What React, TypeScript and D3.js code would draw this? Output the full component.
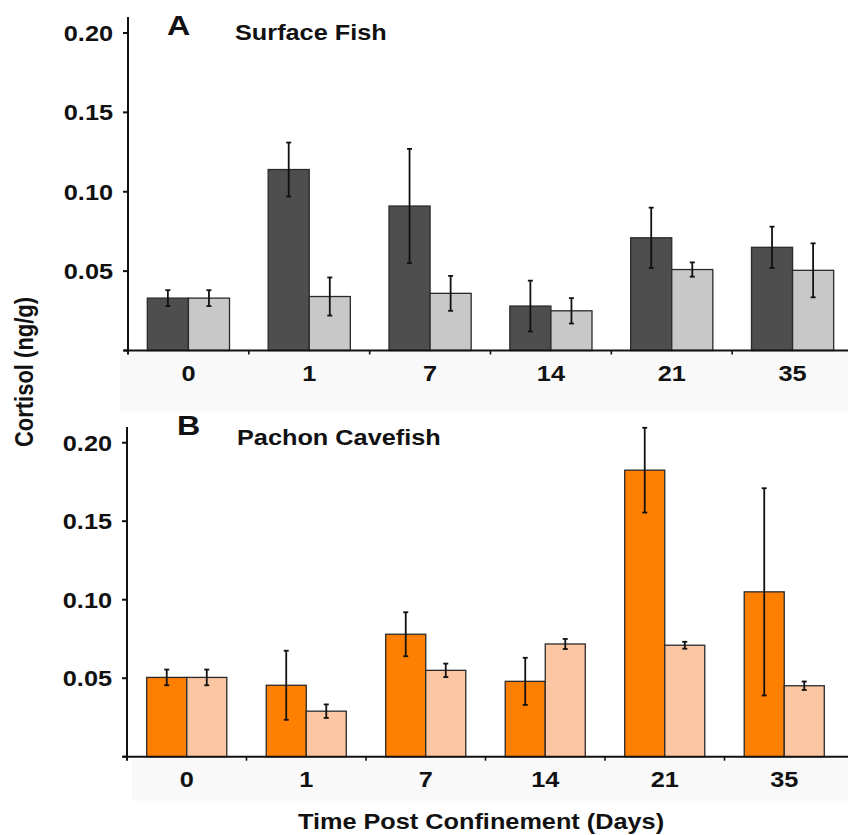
import React from "react";
import * as d3 from "d3";

const days = ["0", "1", "7", "14", "21", "35"];
const surfaceConfined = [0.033, 0.114, 0.091, 0.028, 0.071, 0.065];
const surfaceConfinedErr = [0.005, 0.017, 0.036, 0.016, 0.019, 0.013];
const surfaceControl = [0.033, 0.034, 0.036, 0.025, 0.051, 0.0505];
const surfaceControlErr = [0.005, 0.012, 0.011, 0.008, 0.0045, 0.017];
const caveConfined = [0.0505, 0.0455, 0.078, 0.048, 0.1825, 0.105];
const caveConfinedErr = [0.005, 0.022, 0.014, 0.015, 0.027, 0.066];
const caveControl = [0.0505, 0.029, 0.055, 0.0718, 0.071, 0.0452];
const caveControlErr = [0.005, 0.0043, 0.0043, 0.0032, 0.0022, 0.0027];
const yTicks = [0.05, 0.1, 0.15, 0.2];
const seriesKeys = ["confined", "control"];

const FONT = "'Liberation Sans', Arial, Helvetica, sans-serif";
const SX = 1.15;

function T({ x, y, size, anchor = "start", rotate = 0, children }: any) {
  return (
    <text
      transform={`translate(${x},${y}) scale(${SX},1) rotate(${rotate})`}
      fontFamily={FONT}
      fontWeight="bold"
      fontSize={size}
      textAnchor={anchor}
      fill="#111"
    >
      {children}
    </text>
  );
}

function Panel({ cfg }: any) {
  const x = d3
    .scaleBand<string>()
    .domain(days)
    .range([cfg.x0, cfg.x1])
    .paddingInner(cfg.pad)
    .paddingOuter(cfg.pad / 2);
  const xs = d3.scaleBand<string>().domain(seriesKeys).range([0, x.bandwidth()]);
  const y = d3.scaleLinear().domain([0, 0.2]).range([cfg.yBase, cfg.yTop]);
  const series = [
    { key: "confined", vals: cfg.a, errs: cfg.aErr, fill: cfg.c1 },
    { key: "control", vals: cfg.b, errs: cfg.bErr, fill: cfg.c2 },
  ];
  const bounds = days.map((d) => (x(d) as number) - (x.step() * x.paddingInner()) / 2);
  return (
    <g>
      <rect x={cfg.bandX} y={cfg.yBase + 2} width={848 - cfg.bandX} height={cfg.bandH} fill="#f9f9f9" />
      {series.map((s) =>
        days.map((d, i) => {
          const bx = (x(d) as number) + (xs(s.key) as number);
          const bw = xs.bandwidth();
          const top = y(s.vals[i]);
          const cx = bx + bw / 2;
          const e1 = y(s.vals[i] + s.errs[i]);
          const e2 = y(s.vals[i] - s.errs[i]);
          return (
            <g key={s.key + d}>
              <rect x={bx} y={top} width={bw} height={cfg.yBase - top} fill={s.fill} stroke="#2a2a2a" strokeWidth={1.3} />
              <line x1={cx} x2={cx} y1={e1} y2={e2} stroke="#111" strokeWidth={1.8} />
              <line x1={cx - 2.5} x2={cx + 2.5} y1={e1} y2={e1} stroke="#111" strokeWidth={1.8} />
              <line x1={cx - 2.5} x2={cx + 2.5} y1={e2} y2={e2} stroke="#111" strokeWidth={1.8} />
            </g>
          );
        })
      )}
      {/* y axis */}
      <line x1={cfg.x0} x2={cfg.x0} y1={cfg.axisTop} y2={cfg.yBase + 4} stroke="#111" strokeWidth={2} />
      {[0, ...yTicks].map((t) => (
        <line key={"yt" + t} x1={cfg.x0 - 5} x2={cfg.x0} y1={y(t)} y2={y(t)} stroke="#111" strokeWidth={2} />
      ))}
      {yTicks.map((t) => (
        <T key={"yl" + t} x={cfg.x0 - 15} y={y(t) + 8} size={22} anchor="end">
          {d3.format(".2f")(t)}
        </T>
      ))}
      {/* x axis */}
      <line x1={cfg.x0 - 4} x2={848} y1={cfg.yBase} y2={cfg.yBase} stroke="#111" strokeWidth={2} />
      {bounds.slice(1).map((bx, i) => (
        <line key={"xt" + i} x1={bx} x2={bx} y1={cfg.yBase} y2={cfg.yBase + 4} stroke="#111" strokeWidth={1.6} />
      ))}
      {days.map((d) => (
        <T key={"xl" + d} x={(x(d) as number) + x.bandwidth() / 2} y={cfg.yBase + 30.5} size={22} anchor="middle">
          {d}
        </T>
      ))}
      <T x={cfg.letterX} y={cfg.letterY} size={28}>
        {cfg.letter}
      </T>
      <T x={cfg.titleX} y={cfg.titleY} size={22}>
        {cfg.title}
      </T>
    </g>
  );
}

const panelA = {
  x0: 128,
  x1: 853,
  pad: 0.32,
  yBase: 350.5,
  yTop: 33,
  axisTop: 17,
  a: surfaceConfined,
  aErr: surfaceConfinedErr,
  b: surfaceControl,
  bErr: surfaceControlErr,
  c1: "#4e4e4e",
  c2: "#c8c8c8",
  letter: "A",
  letterX: 167,
  letterY: 35,
  title: "Surface Fish",
  titleX: 235,
  titleY: 40,
  bandX: 120,
  bandH: 60,
};

const panelB = {
  x0: 127,
  x1: 844,
  pad: 0.33,
  yBase: 756.7,
  yTop: 442.7,
  axisTop: 427,
  a: caveConfined,
  aErr: caveConfinedErr,
  b: caveControl,
  bErr: caveControlErr,
  c1: "#ff7f00",
  c2: "#fcc6a2",
  letter: "B",
  letterX: 177,
  letterY: 435,
  title: "Pachon Cavefish",
  titleX: 237,
  titleY: 445,
  bandX: 132,
  bandH: 42,
};

export default function App() {
  return (
    <svg
      width={848}
      height={835}
      viewBox="0 0 848 835"
      style={{ position: "absolute", left: 0, top: 0, background: "#fff" }}
    >
      <rect x={0} y={0} width={848} height={835} fill="#fff" />
      <Panel cfg={panelA} />
      <Panel cfg={panelB} />
      <T x={33} y={372} size={22} anchor="middle" rotate={-90}>
        Cortisol (ng/g)
      </T>
      <T x={481} y={829} size={22} anchor="middle">
        Time Post Confinement (Days)
      </T>
    </svg>
  );
}
